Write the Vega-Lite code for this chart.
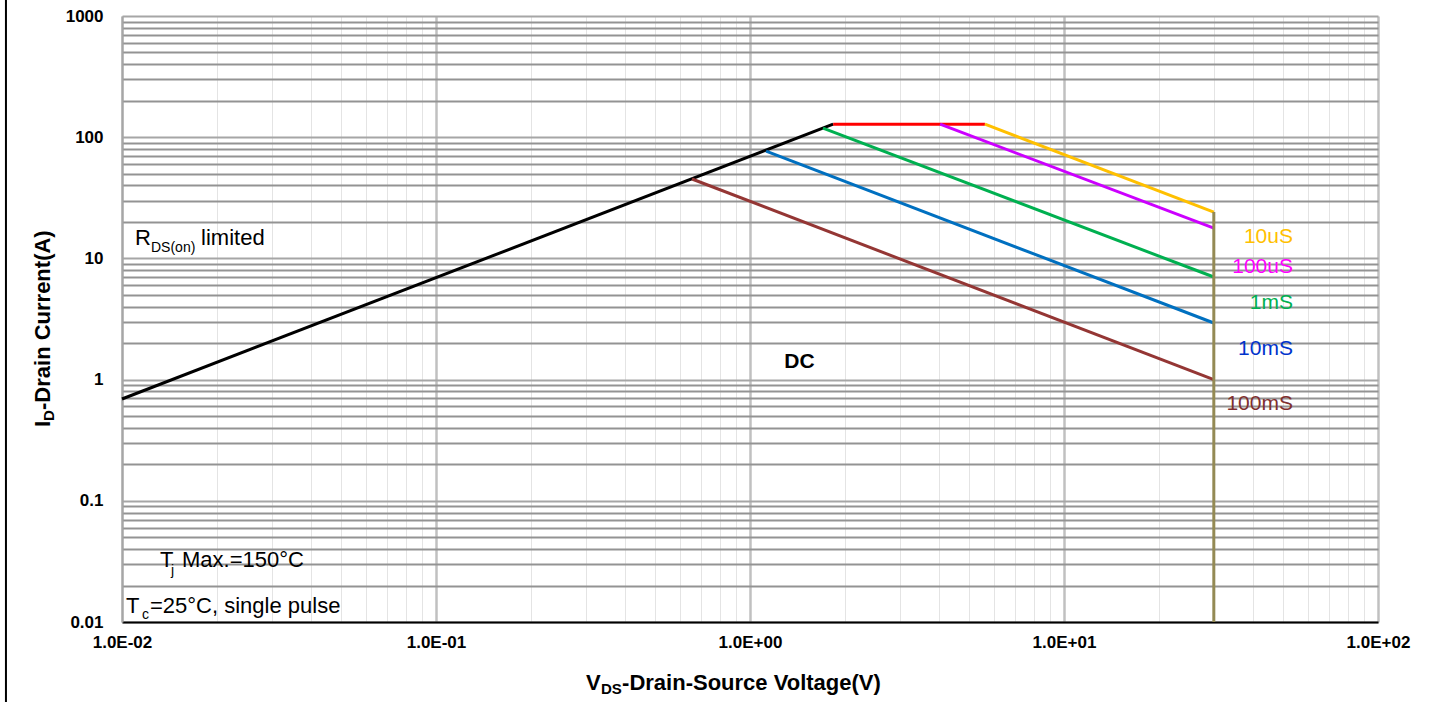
{
  "$schema": "https://vega.github.io/schema/vega-lite/v6.json",
  "width": 1256,
  "height": 606,
  "autosize": {"type": "none"},
  "padding": {"left": 122, "top": 16, "right": 53, "bottom": 80},
  "background": "white",
  "config": {"view": {"stroke": null}, "font": "Liberation Sans", "text": {"font": "Liberation Sans"}},
  "datasets": {
    "lines": [
      {"s": "Rds", "p": 1, "v": 0.01, "i": 0.692},
      {"s": "Rds", "p": 2, "v": 1.84, "i": 128},
      {"s": "Limit", "p": 1, "v": 1.84, "i": 128},
      {"s": "Limit", "p": 2, "v": 5.6, "i": 128},
      {"s": "10uS", "p": 1, "v": 5.6, "i": 128},
      {"s": "10uS", "p": 2, "v": 30, "i": 24.1},
      {"s": "100uS", "p": 1, "v": 4.03, "i": 128},
      {"s": "100uS", "p": 2, "v": 30, "i": 17.8},
      {"s": "1mS", "p": 1, "v": 1.708, "i": 119},
      {"s": "1mS", "p": 2, "v": 30, "i": 7.02},
      {"s": "10mS", "p": 1, "v": 1.125, "i": 76.9},
      {"s": "10mS", "p": 2, "v": 30, "i": 2.93},
      {"s": "100mS", "p": 1, "v": 0.6535, "i": 45.2},
      {"s": "100mS", "p": 2, "v": 30, "i": 1.0},
      {"s": "VDS", "p": 1, "v": 30, "i": 24.1},
      {"s": "VDS", "p": 2, "v": 30, "i": 0.01}
    ],
    "pulse": [
      {"s": "10uS", "t": "10uS", "v": 53.6, "i": 13.47},
      {"s": "100uS", "t": "100uS", "v": 53.6, "i": 7.58},
      {"s": "1mS", "t": "1mS", "v": 53.6, "i": 3.824},
      {"s": "10mS", "t": "10mS", "v": 53.6, "i": 1.596},
      {"s": "100mS", "t": "100mS", "v": 53.6, "i": 0.5613}
    ],
    "notes": [
      {"t": "R", "v": 0.011, "i": 12.9},
      {"t": "limited", "v": 0.01786, "i": 12.9},
      {"t": "T", "v": 0.01322, "i": 0.02843},
      {"t": "Max.=150°C", "v": 0.01553, "i": 0.02843},
      {"t": "T", "v": 0.0103, "i": 0.01187},
      {"t": "=25°C, single pulse", "v": 0.01228, "i": 0.01187}
    ],
    "subs": [
      {"t": "DS(on)", "v": 0.01237, "i": 11.29},
      {"t": "j", "v": 0.01432, "i": 0.02442},
      {"t": "c", "v": 0.01158, "i": 0.01059}
    ],
    "xtitle": [
      {"t": "V", "v": 0.3004, "i": 0.002747},
      {"t": "-Drain-Source Voltage(V)", "v": 0.3914, "i": 0.002747}
    ],
    "xsub": [
      {"t": "DS", "v": 0.3354, "i": 0.002545}
    ],
    "ytitle": [
      {"t": "I", "v": 0.005898, "i": 0.4064},
      {"t": "-Drain Current(A)", "v": 0.005898, "i": 0.5613}
    ],
    "ysub": [
      {"t": "D", "v": 0.006074, "i": 0.4554}
    ]
  },
  "encoding": {
    "x": {
      "field": "v",
      "type": "quantitative",
      "scale": {"type": "log", "domain": [0.01, 100], "nice": false},
      "axis": {
        "title": null,
        "values": [0.01, 0.02, 0.03, 0.04, 0.05, 0.06, 0.07, 0.08, 0.09, 0.1, 0.2, 0.3, 0.4, 0.5, 0.6, 0.7, 0.8, 0.9, 1, 2, 3, 4, 5, 6, 7, 8, 9, 10, 20, 30, 40, 50, 60, 70, 80, 90, 100],
        "labelExpr": "abs(log(datum.value)/LN10 - round(log(datum.value)/LN10)) < 0.001 ? '1.0E' + (datum.value < 1 ? '-0' : '+0') + abs(round(log(datum.value)/LN10)) : ''",
        "labelOverlap": false,
        "labelFlush": false,
        "labelFont": "Liberation Sans",
        "labelFontWeight": "bold",
        "labelFontSize": 17,
        "labelColor": "#000000",
        "labelPadding": 12,
        "ticks": false,
        "tickSize": 0,
        "domainColor": "#000000",
        "domainWidth": 2,
        "grid": true,
        "gridColor": {"condition": {"test": "abs(log(datum.value)/LN10 - round(log(datum.value)/LN10)) < 0.001", "value": "#c0c0c0"}, "value": "#e4e4e4"},
        "gridWidth": {"condition": {"test": "abs(log(datum.value)/LN10 - round(log(datum.value)/LN10)) < 0.001", "value": 2.5}, "value": 1}
      }
    },
    "y": {
      "field": "i",
      "type": "quantitative",
      "scale": {"type": "log", "domain": [0.01, 1000], "nice": false},
      "axis": {
        "title": null,
        "values": [0.01, 0.02, 0.03, 0.04, 0.05, 0.06, 0.07, 0.08, 0.09, 0.1, 0.2, 0.3, 0.4, 0.5, 0.6, 0.7, 0.8, 0.9, 1, 2, 3, 4, 5, 6, 7, 8, 9, 10, 20, 30, 40, 50, 60, 70, 80, 90, 100, 200, 300, 400, 500, 600, 700, 800, 900, 1000],
        "labelExpr": "abs(log(datum.value)/LN10 - round(log(datum.value)/LN10)) < 0.001 ? format(datum.value, '~g') : ''",
        "labelOverlap": false,
        "labelFlush": false,
        "labelFont": "Liberation Sans",
        "labelFontWeight": "bold",
        "labelFontSize": 17,
        "labelColor": "#000000",
        "labelPadding": 19,
        "ticks": false,
        "tickSize": 0,
        "domainColor": "#a6a6a6",
        "domainWidth": 2,
        "grid": true,
        "gridColor": {"condition": {"test": "abs(log(datum.value)/LN10 - round(log(datum.value)/LN10)) < 0.001", "value": "#a6a6a6"}, "value": "#939393"},
        "gridWidth": 2
      }
    }
  },
  "layer": [
    {
      "data": {"values": [{"v": 0.00427, "i": 1355, "i2": 0.00219}]},
      "mark": {"type": "rule", "color": "#000000", "strokeWidth": 2},
      "encoding": {"y2": {"field": "i2"}}
    },
    {
      "data": {"name": "lines"},
      "mark": {"type": "line", "strokeWidth": 3},
      "encoding": {
        "color": {
          "field": "s",
          "type": "nominal",
          "scale": {
            "domain": ["Rds", "Limit", "10uS", "100uS", "1mS", "10mS", "100mS", "VDS"],
            "range": ["#000000", "#ff0000", "#ffc000", "#cc00ff", "#00b050", "#0070c0", "#943634", "#948a54"]
          },
          "legend": null
        },
        "order": {"field": "p", "type": "quantitative"}
      }
    },
    {
      "data": {"name": "pulse"},
      "mark": {"type": "text", "align": "right", "baseline": "alphabetic", "fontSize": 21, "font": "Liberation Sans"},
      "encoding": {
        "text": {"field": "t"},
        "color": {
          "field": "s",
          "type": "nominal",
          "scale": {
            "domain": ["10uS", "100uS", "1mS", "10mS", "100mS"],
            "range": ["#ffc000", "#ff00ff", "#00b050", "#0033cc", "#7f2f2f"]
          },
          "legend": null
        }
      }
    },
    {
      "data": {"values": [{"t": "DC", "v": 1.438, "i": 1.246}]},
      "mark": {"type": "text", "align": "center", "baseline": "alphabetic", "fontSize": 21, "fontWeight": "bold", "color": "#000000", "font": "Liberation Sans"},
      "encoding": {"text": {"field": "t"}}
    },
    {
      "data": {"name": "notes"},
      "mark": {"type": "text", "align": "left", "baseline": "alphabetic", "fontSize": 22, "color": "#000000", "font": "Liberation Sans"},
      "encoding": {"text": {"field": "t"}}
    },
    {
      "data": {"name": "subs"},
      "mark": {"type": "text", "align": "left", "baseline": "alphabetic", "fontSize": 14, "color": "#000000", "font": "Liberation Sans"},
      "encoding": {"text": {"field": "t"}}
    },
    {
      "data": {"name": "xtitle"},
      "mark": {"type": "text", "align": "left", "baseline": "alphabetic", "fontSize": 22, "fontWeight": "bold", "color": "#000000", "font": "Liberation Sans"},
      "encoding": {"text": {"field": "t"}}
    },
    {
      "data": {"name": "xsub"},
      "mark": {"type": "text", "align": "left", "baseline": "alphabetic", "fontSize": 15, "fontWeight": "bold", "color": "#000000", "font": "Liberation Sans"},
      "encoding": {"text": {"field": "t"}}
    },
    {
      "data": {"name": "ytitle"},
      "mark": {"type": "text", "align": "left", "baseline": "alphabetic", "angle": 270, "fontSize": 22, "fontWeight": "bold", "color": "#000000", "font": "Liberation Sans"},
      "encoding": {"text": {"field": "t"}}
    },
    {
      "data": {"name": "ysub"},
      "mark": {"type": "text", "align": "left", "baseline": "alphabetic", "angle": 270, "fontSize": 15, "fontWeight": "bold", "color": "#000000", "font": "Liberation Sans"},
      "encoding": {"text": {"field": "t"}}
    }
  ],
  "resolve": {"scale": {"color": "independent"}}
}
